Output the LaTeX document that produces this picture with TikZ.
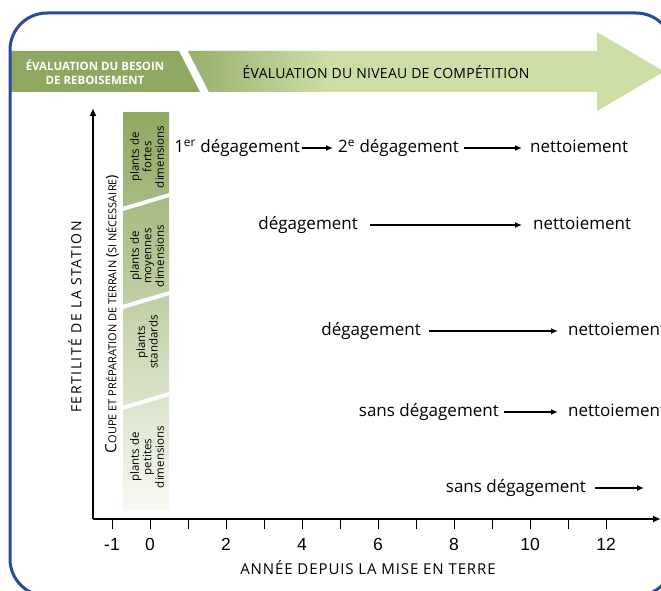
\documentclass[tikz,border=0pt]{standalone}
\usepackage{fontspec}
\setmainfont{Open Sans}
\newfontfamily\axisfont{Liberation Sans}
\newfontfamily\bannerfont[LetterSpace=2]{Open Sans}
\newfontfamily\spacedfont[LetterSpace=6]{Open Sans}
\newfontfamily\widefont[LetterSpace=11]{Open Sans}
\usetikzlibrary{arrows.meta}
\definecolor{mblue}{rgb}{0.17, 0.29, 0.6}
\definecolor{mgreen}{rgb}{0.56, 0.66, 0.38}
\definecolor{mmid}{rgb}{0.7, 0.78, 0.55}
\definecolor{mlight}{rgb}{0.8, 0.87, 0.65}
\definecolor{mpale}{rgb}{0.97, 0.98, 0.95}

\tikzset{
  task/.style={inner sep=0pt, text height=12.5pt, text depth=3.5pt,
    font=\fontsize{17}{20}\selectfont},
  taskarrow/.style={-{Latex[length=7pt,width=6pt]}, line width=1.8pt},
  axisarrow/.style={-{Latex[length=8pt,width=7pt]}, line width=2.4pt},
  plants/.style={rotate=90, align=center, inner sep=0pt,
    font=\fontsize{11.5}{12.5}\selectfont},
  caps/.style={inner sep=0pt, font=\spacedfont\fontsize{15}{18}\selectfont}
}

\begin{document}
\begin{tikzpicture}[x=1pt, y=-1pt]
      \useasboundingbox (0, 0) rectangle (661, 591);
      \clip (0, 0) rectangle (661, 591);

      \fill [mlight] (188, 51) -- (597, 51) -- (597, 32) -- (664, 71.5)
        -- (597, 111) -- (597, 92) -- (209, 92) -- cycle;
      \shade [left color=mgreen!92!white, right color=mlight]
        (188, 51) -- (330, 51) -- (330, 92) -- (209, 92) -- cycle;
      \fill [mgreen] (10, 51) -- (179, 51) -- (200, 92) -- (10, 92) -- cycle;

      \node [text=white, align=center, font=\bfseries\fontsize{11.5}{14}\selectfont]
        (besoin) at (95, 72) {ÉVALUATION DU BESOIN\\DE REBOISEMENT};
      \node [caps, font=\bannerfont\fontsize{14}{16}\selectfont]
        (competition) at (386, 72) {ÉVALUATION DU NIVEAU DE COMPÉTITION};

      \draw [mblue, line width=3pt, rounded corners=37pt] (10, 13) rectangle (673, 596);

      \shade [top color=mgreen, middle color=mmid, bottom color=mpale]
        (123, 113) rectangle (169, 510);
      \foreach \l/\r in {209/195, 307/293, 408/394}
        \draw [white, line width=4pt] (122.5, \l) -- (169.5, \r);

      \node [plants] (fortes) at (147, 157) {plants de\\fortes\\dimensions};
      \node [plants] (moyennes) at (147, 256) {plants de\\moyennes\\dimensions};
      \node [plants] (standards) at (147, 342) {plants\\standards};
      \node [plants] (petites) at (147, 457) {plants de\\petites\\dimensions};

      \node [caps, rotate=90, font=\widefont\fontsize{14}{17}\selectfont]
        (fertilite) at (75, 317) {FERTILITÉ DE LA STATION};
      \node [caps, rotate=90, font=\fontsize{11}{14}\selectfont] (coupe) at (112, 314)
        {{\fontsize{15.5}{16}\selectfont C}OUPE ET PRÉPARATION DE TERRAIN
         {\fontsize{14.5}{15}\selectfont(}SI NÉCESSAIRE{\fontsize{14.5}{15}\selectfont)}};

      \coordinate (origin) at (93, 519);
      \coordinate (ytop) at (93, 108);
      \coordinate (xend) at (661, 519);
      \draw [axisarrow] (origin) -- (ytop);
      \draw [axisarrow] (origin) -- (xend);

      \foreach \t in {-1,...,12}
        \draw [line width=0.8pt] ({150+38*\t}, 520) -- ++(0, 9);
      \foreach \t in {-1,0,2,4,6,8,10,12}
        \node [font=\axisfont\fontsize{17.5}{20}\selectfont] (yr\t) at ({150+38*\t}, 544) {\t};
      \node [caps] (annee) at (368, 568) {ANNÉE DEPUIS LA MISE EN TERRE};

      \node [task, anchor=east] (deg1) at (300, 148) {1\textsuperscript{er} dégagement};
      \node [task, anchor=west] (deg2) at (338, 148) {2\textsuperscript{e} dégagement};
      \node [task, anchor=west] (net1) at (530, 148) {nettoiement};
      \draw [taskarrow] ([xshift=2pt]deg1.east) -- ([xshift=-5pt]deg2.west);
      \draw [taskarrow] ([xshift=5pt]deg2.east) -- ([xshift=-8pt]net1.west);

      \node [task, anchor=east] (deg3) at (358, 225) {dégagement};
      \node [task, anchor=west] (net2) at (533, 225) {nettoiement};
      \draw [taskarrow] ([xshift=12pt]deg3.east) -- ([xshift=-11pt]net2.west);

      \node [task, anchor=east] (deg4) at (421, 331) {dégagement};
      \node [task, anchor=west] (net3) at (568, 331) {nettoiement};
      \draw [taskarrow] ([xshift=8pt]deg4.east) -- ([xshift=-10pt]net3.west);

      \node [task, anchor=east] (sans1) at (499, 412) {sans dégagement};
      \node [task, anchor=west] (net4) at (568, 412) {nettoiement};
      \draw [taskarrow] ([xshift=5pt]sans1.east) -- ([xshift=-10pt]net4.west);

      \node [task, anchor=east] (sans2) at (586, 488) {sans dégagement};
      \coordinate (end5) at (644, 488);
      \draw [taskarrow] ([xshift=9pt]sans2.east) -- (end5);
\end{tikzpicture}
\end{document}
